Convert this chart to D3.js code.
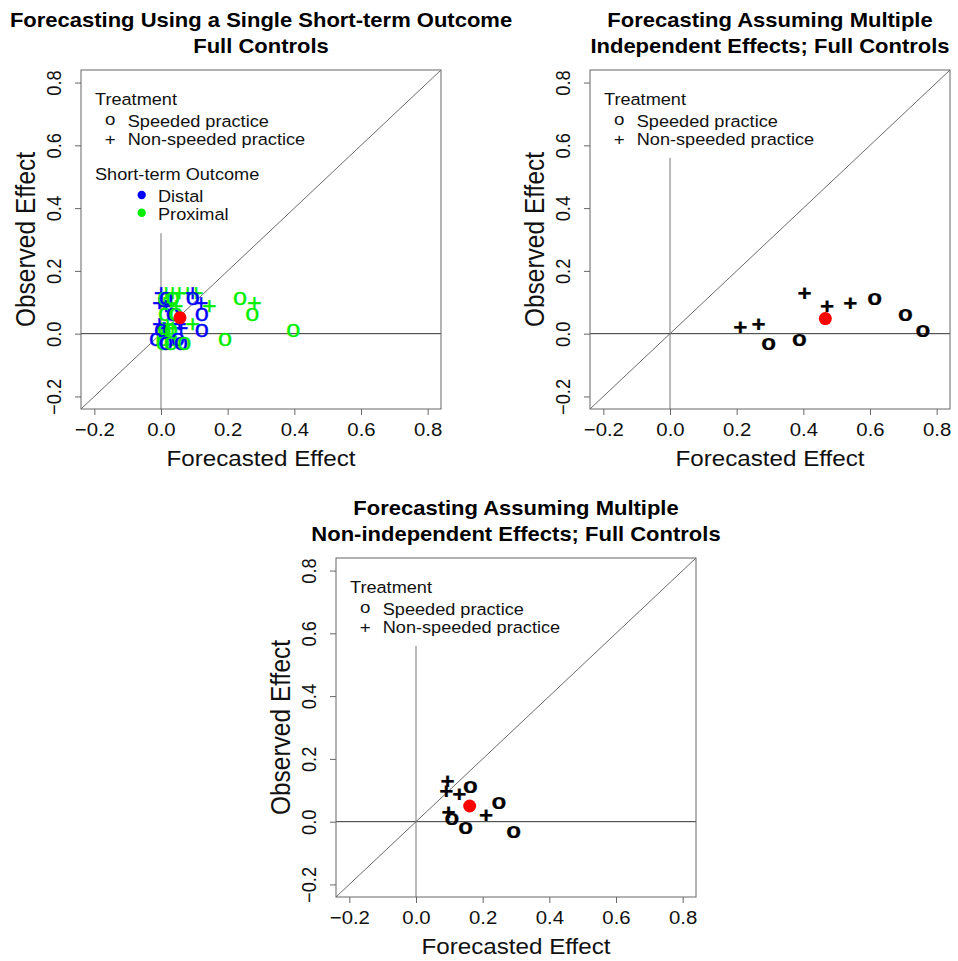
<!DOCTYPE html>
<html>
<head>
<meta charset="utf-8">
<script src="https://cdn.jsdelivr.net/npm/d3@7"></script>
<style>
  body { margin: 0; background: #fff; }
  svg { display: block; }
</style>
</head>
<body>
<div id="chart"></div>
<script>
// ten treatments: shape and observed effect
const treatShape = ['+', '+', '+', '+', '+', 'o', 'o', 'o', 'o', 'o']
const observed = [0.13, 0.097, 0.088, 0.03, 0.02, 0.11, 0.06, 0.007, -0.02, -0.033]

// forecasts from multiple outcomes
const forecastIndep = [0.404, 0.541, 0.471, 0.266, 0.211, 0.614, 0.706, 0.759, 0.388, 0.296]
const forecastNonIndep = [0.095, 0.091, 0.13, 0.098, 0.21, 0.163, 0.249, 0.108, 0.149, 0.293]

// forecasts from a single short-term outcome (treatment index, outcome type, forecast)
const singleTreat = [
  0, 0, 0, 0, 0, 0, 0,
  1, 1, 1, 1, 1,
  2, 2, 2,
  3, 3, 3, 3,
  4, 4, 4, 4,
  5, 5, 5, 5, 5,
  6, 6, 6, 6, 6,
  7, 7, 7, 7, 7,
  8, 8, 8, 8, 8,
  9, 9, 9, 9, 9
]
const singleOutcome = [
  'Proximal', 'Distal', 'Proximal', 'Proximal', 'Proximal', 'Distal', 'Proximal',
  'Proximal', 'Distal', 'Proximal', 'Distal', 'Proximal',
  'Distal', 'Proximal', 'Proximal',
  'Distal', 'Proximal', 'Distal', 'Proximal',
  'Proximal', 'Distal', 'Proximal', 'Distal',
  'Proximal', 'Distal', 'Proximal', 'Distal', 'Proximal',
  'Proximal', 'Distal', 'Proximal', 'Distal', 'Proximal',
  'Proximal', 'Distal', 'Proximal', 'Distal', 'Proximal',
  'Proximal', 'Distal', 'Proximal', 'Distal', 'Proximal',
  'Proximal', 'Distal', 'Proximal', 'Distal', 'Proximal'
]
const singleForecast = [
  0.015, 0.0, 0.035, 0.055, 0.08, 0.095, 0.105,
  0.01, -0.005, 0.03, 0.12, 0.28,
  0.015, 0.045, 0.145,
  -0.005, 0.02, 0.055, 0.095,
  0.005, 0.01, 0.035, 0.06,
  0.01, 0.015, 0.035, 0.095, 0.237,
  0.012, 0.035, 0.045, 0.122, 0.274,
  0.01, 0.0, 0.03, 0.122, 0.397,
  0.005, -0.015, 0.03, 0.05, 0.192,
  0.005, 0.015, 0.03, 0.06, 0.07
]

// average point (red) per panel
const meanForecast = [0.057, 0.466, 0.161]
const meanObserved = [0.051, 0.048, 0.05]

const tickValues = [-0.2, 0.0, 0.2, 0.4, 0.6, 0.8]
const outcomeColor = { Distal: '#0000ff', Proximal: '#00ee00' }

const SX = 1.1 // the picture is a bit wider than tall
const FONT = "'Liberation Sans', Arial, Helvetica, sans-serif"
const W = 360, H = 339
const dom = [-0.24, 0.84]

const svg = d3.select('#chart').append('svg')
  .attr('width', 958)
  .attr('height', 961)
  .style('font-family', FONT)

svg.append('rect').attr('width', 958).attr('height', 961).attr('fill', '#fff')

function label(g, str, x, y, o = {}) {
  return g.append('text')
    .attr('transform', `translate(${x},${y}) scale(${SX},1)`)
    .attr('text-anchor', o.anchor || 'start')
    .attr('font-size', o.size || 16.5)
    .attr('font-weight', o.weight || 'normal')
    .attr('fill', o.color || '#111')
    .text(str)
}

// character marker centred on (cx, cy)
function glyph(g, ch, cx, cy, size, weight, color, sw) {
  const off = ch === 'o' ? 0.26 : 0.355
  const t = g.append('text')
    .attr('transform', `translate(${cx},${cy + off * size}) scale(${SX},1)`)
    .attr('text-anchor', 'middle')
    .attr('font-size', size)
    .attr('font-weight', weight)
    .attr('fill', color)
    .text(ch)
  if (sw) t.attr('stroke', color).attr('stroke-width', sw)
  return t
}

function panel(o) {
  const g = svg.append('g')
  const x = d3.scaleLinear().domain(dom).range([o.bx, o.bx + W])
  const y = d3.scaleLinear().domain(dom).range([o.by + H, o.by])

  o.title.forEach((t, i) => {
    label(g, t, o.bx + W / 2, o.by - 43.3 + i * 26.7, { size: 20, weight: 'bold', anchor: 'middle', color: '#000' })
  })

  // reference lines
  g.append('line')
    .attr('x1', x(dom[0])).attr('x2', x(dom[1]))
    .attr('y1', y(0)).attr('y2', y(0))
    .attr('stroke', '#333')
  g.append('line')
    .attr('x1', x(0)).attr('x2', x(0))
    .attr('y1', y(o.vTop)).attr('y2', y(dom[0]))
    .attr('stroke', '#777')
  g.append('line')
    .attr('x1', x(dom[0])).attr('y1', y(dom[0]))
    .attr('x2', x(dom[1])).attr('y2', y(dom[1]))
    .attr('stroke', '#6a6a6a')

  g.append('rect')
    .attr('x', o.bx).attr('y', o.by)
    .attr('width', W).attr('height', H)
    .attr('fill', 'none')
    .attr('stroke', '#666')

  // axes
  const ax = g.append('g')
    .attr('transform', `translate(0,${o.by + H})`)
    .call(d3.axisBottom(x).tickValues(tickValues).tickSize(6).tickFormat(d3.format('.1f')))
  ax.select('.domain').remove()
  ax.selectAll('.tick line').attr('stroke', '#666')
  ax.selectAll('.tick text')
    .attr('y', null).attr('dy', null)
    .attr('transform', `translate(0,27) scale(${SX},1)`)
    .attr('font-size', 18.5)
    .attr('font-family', FONT)
    .attr('fill', '#111')

  const ay = g.append('g')
    .attr('transform', `translate(${o.bx},0)`)
    .call(d3.axisLeft(y).tickValues(tickValues).tickSize(6).tickFormat(d3.format('.1f')))
  ay.select('.domain').remove()
  ay.selectAll('.tick line').attr('stroke', '#666')
  ay.selectAll('.tick text')
    .attr('x', null).attr('dy', null)
    .attr('text-anchor', 'middle')
    .attr('transform', `translate(-20,0) rotate(-90) scale(1,${SX})`)
    .attr('font-size', 18.3)
    .attr('font-family', FONT)
    .attr('fill', '#111')

  label(g, 'Forecasted Effect', o.bx + W / 2, o.by + H + 56.7, { size: 22, anchor: 'middle' })
  g.append('text')
    .attr('transform', `translate(${o.bx - 46},${o.by + H / 2}) rotate(-90) scale(1,${SX})`)
    .attr('text-anchor', 'middle')
    .attr('font-size', 24.5)
    .attr('fill', '#111')
    .text('Observed Effect')

  // legend
  const lx = o.bx, ly = o.by
  label(g, 'Treatment', lx + 14, ly + 35)
  glyph(g, 'o', lx + 29.3, ly + 50.5, 17, 'normal', '#111')
  label(g, 'Speeded practice', lx + 46.7, ly + 56.7)
  glyph(g, '+', lx + 29.3, ly + 68.5, 17, 'normal', '#111')
  label(g, 'Non-speeded practice', lx + 46.7, ly + 75)
  if (o.outcomes) {
    label(g, 'Short-term Outcome', lx + 14, ly + 110)
    ;['Distal', 'Proximal'].forEach((k, i) => {
      g.append('circle')
        .attr('cx', lx + 60.7).attr('cy', ly + 125 + i * 17.7)
        .attr('r', 4.2)
        .attr('fill', outcomeColor[k])
      label(g, k, lx + 77, ly + 131.7 + i * 18.3)
    })
  }

  // points
  o.points.forEach(p => {
    if (o.bold) glyph(g, p.shape, x(p.fx), y(p.obs), 22, 'bold', p.color, 0.25)
    else glyph(g, p.shape, x(p.fx), y(p.obs), 23, 'normal', p.color, 0.35)
  })

  g.append('circle')
    .attr('cx', x(o.mean[0])).attr('cy', y(o.mean[1]))
    .attr('r', 6.5)
    .attr('fill', '#ff0000')
}

panel({
  bx: 81, by: 70, vTop: 0.32,
  title: ['Forecasting Using a Single Short-term Outcome', 'Full Controls'],
  outcomes: true, bold: false,
  points: singleForecast.map((f, i) => ({
    fx: f,
    obs: observed[singleTreat[i]],
    shape: treatShape[singleTreat[i]],
    color: outcomeColor[singleOutcome[i]]
  })),
  mean: [meanForecast[0], meanObserved[0]]
})

panel({
  bx: 590, by: 70, vTop: 0.56,
  title: ['Forecasting Assuming Multiple', 'Independent Effects; Full Controls'],
  outcomes: false, bold: true,
  points: forecastIndep.map((f, i) => ({ fx: f, obs: observed[i], shape: treatShape[i], color: '#000' })),
  mean: [meanForecast[1], meanObserved[1]]
})

panel({
  bx: 336, by: 558, vTop: 0.56,
  title: ['Forecasting Assuming Multiple', 'Non-independent Effects; Full Controls'],
  outcomes: false, bold: true,
  points: forecastNonIndep.map((f, i) => ({ fx: f, obs: observed[i], shape: treatShape[i], color: '#000' })),
  mean: [meanForecast[2], meanObserved[2]]
})
</script>
</body>
</html>
